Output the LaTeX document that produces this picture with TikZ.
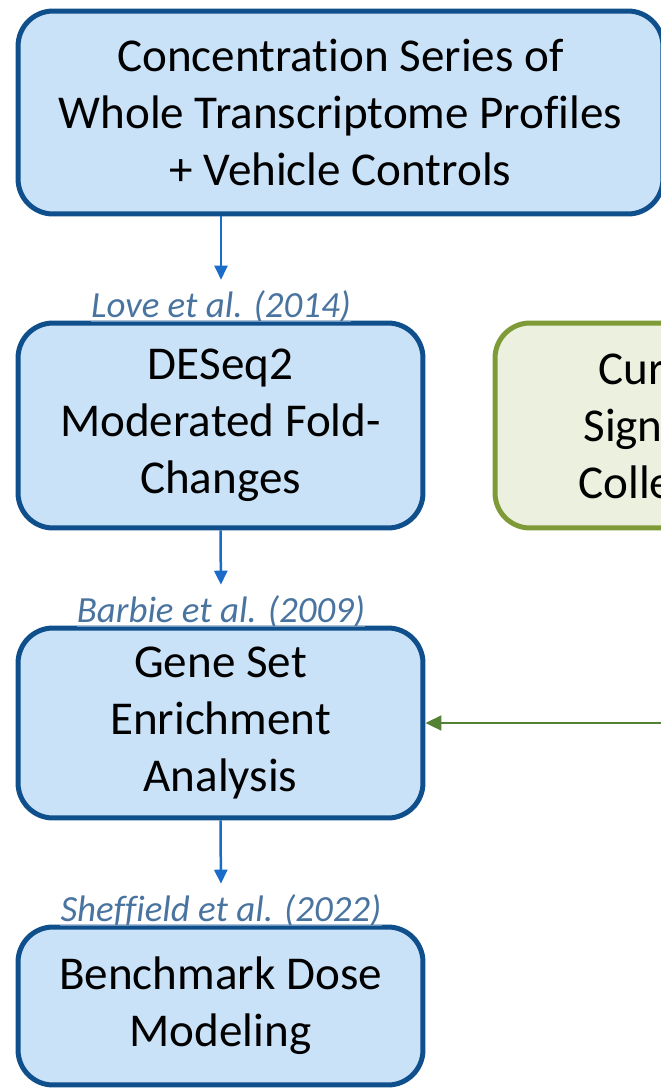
\documentclass[tikz,border=0pt]{standalone}
\usepackage{fontspec}
\setmainfont{Carlito}[Ligatures=NoCommon]
\usetikzlibrary{arrows.meta}
\definecolor{stepfill}{HTML}{C9E2F8}
\definecolor{stepline}{HTML}{0E4F8C}
\definecolor{flowblue}{HTML}{1A6CC8}
\definecolor{citeblue}{HTML}{4A74A0}
\definecolor{citeline}{HTML}{7096BE}
\definecolor{sigfill}{HTML}{EBF1DE}
\definecolor{sigline}{HTML}{7E9B38}
\definecolor{flowgreen}{HTML}{548235}
\tikzset{
  stepbox/.style={draw=stepline, fill=stepfill, line width=0.1cm, rounded corners=0.7cm,
    align=center, inner sep=0pt, font=\fontsize{26.8}{32.4}\selectfont},
  sigbox/.style={stepbox, draw=sigline, fill=sigfill},
  cite/.style={anchor=base, inner sep=0pt, text=citeblue, font=\fontsize{21}{25}\selectfont\itshape},
  citeunder/.style={draw=citeline, line width=0.03cm},
  flow/.style={draw=flowblue, line width=0.05cm, shorten >=0.2cm, -{Triangle[width=0.26cm,length=0.28cm]}},
  feed/.style={draw=flowgreen, line width=0.04cm, -{Triangle[width=0.3cm,length=0.32cm]}},
}

\begin{document}
\begin{tikzpicture}[x=0.02cm, y=-0.02cm]
\useasboundingbox (0,0) rectangle (661,1088);
\clip (0,0) rectangle (661,1088);
% pipeline boxes
\node[stepbox, minimum width=12.9cm, minimum height=4.06cm] (profiles) at (340.5,112.5)
  {Concentration Series of\\Whole Transcriptome Profiles\\+ Vehicle Controls};
\node[stepbox, minimum width=8.1cm, minimum height=4.1cm] (deseq) at (220.5,425.5)
  {DESeq2\\Moderated Fold-\\Changes};
\node[stepbox, minimum width=8.1cm, minimum height=3.8cm] (gsea) at (220.5,723)
  {Gene Set\\Enrichment\\Analysis};
\node[stepbox, minimum width=8.1cm, minimum height=3.16cm] (bmd) at (220.5,1006)
  {Benchmark Dose\\Modeling};
\node[sigbox, minimum width=7.16cm, minimum height=4.1cm] (sigs) at (674,425.5)
  {Curated\\Signature\\Collection};
% references above each step
\node[cite] (love) at (221,317) {Love et al. (2014)};
\node[cite] (barbie) at (221,622) {Barbie et al. (2009)};
\node[cite] (sheff) at (221,921) {Sheffield et al. (2022)};
\foreach \c in {love,barbie,sheff}
  \draw[citeunder] ([yshift=-0.09cm]\c.base west) -- ([yshift=-0.09cm]\c.base east);
% connectors
\draw[flow] (profiles.south -| love) -- (love.north);
\draw[flow] (deseq.south) -- (barbie.north);
\draw[flow] (gsea.south) -- (sheff.north);
\coordinate (feedin) at (700,723);
\draw[feed] (feedin) -- (gsea.east);
\end{tikzpicture}
\end{document}
